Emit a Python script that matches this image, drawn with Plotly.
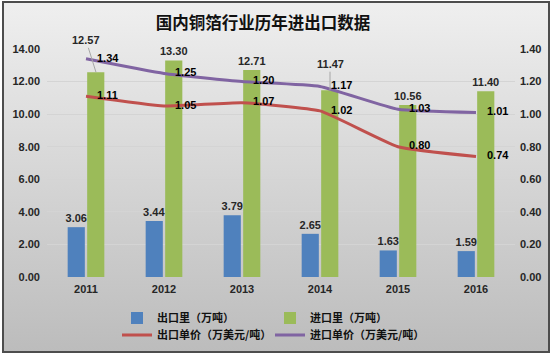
import base64
import plotly.graph_objects as go

years = ["2011", "2012", "2013", "2014", "2015", "2016"]
export_qty = [3.06, 3.44, 3.79, 2.65, 1.63, 1.59]
import_qty = [12.57, 13.30, 12.71, 11.47, 10.56, 11.40]
export_price = [1.11, 1.05, 1.07, 1.02, 0.80, 0.74]
import_price = [1.34, 1.25, 1.20, 1.17, 1.03, 1.01]

names = ["出口里（万吨）", "进口里（万吨）", "出口单价（万美元/吨）", "进口单价（万美元/吨）"]
left_ticks = [0, 2, 4, 6, 8, 10, 12, 14]
right_ticks = [0, 0.2, 0.4, 0.6, 0.8, 1.0, 1.2, 1.4]
offset_labels = {"2011": (-10, -32), "2014": (0, -26)}  # import labels drawn with leader lines

W, H = 554, 357
L, R, T, B = 47, 39, 49, 80
pw, ph = W - L - R, H - T - B

def px_x(p):
    return (p - L) / pw

def px_y(p):
    return (H - B - p) / ph

NUM_FONT = dict(family="Liberation Sans, Arial", size=11, color="#262626", weight="bold")
CJK_FONT = dict(family="Noto Sans CJK SC", size=11, color="#111111", weight="bold")

fig = go.Figure()

fig.add_trace(go.Bar(
    x=years, y=export_qty, name=names[0], marker_color="#4f81bd",
    marker_line_width=0,
    text=[f"{v:.2f}" for v in export_qty], textposition="outside", constraintext="none",
    textfont=NUM_FONT, cliponaxis=False, legend="legend",
))
fig.add_trace(go.Bar(
    x=years, y=import_qty, name=names[1], marker_color="#9bbb59",
    marker_line_width=0,
    text=["" if y in offset_labels else f"{v:.2f}" for y, v in zip(years, import_qty)],
    textposition="outside", constraintext="none",
    textfont=NUM_FONT, cliponaxis=False, legend="legend",
))
fig.add_trace(go.Scatter(
    x=years, y=export_price, name=names[2], yaxis="y2",
    mode="lines+markers+text", line=dict(color="#c0504d", width=3, shape="spline", smoothing=0.4),
    marker=dict(size=16, color="rgba(0,0,0,0)"),
    text=[f"{v:.2f}" for v in export_price], textposition="middle right",
    textfont=dict(family="Liberation Sans, Arial", size=11, color="#000000", weight="bold"),
    cliponaxis=False, legend="legend2",
))
fig.add_trace(go.Scatter(
    x=years, y=import_price, name=names[3], yaxis="y2",
    mode="lines+markers+text", line=dict(color="#8064a2", width=3, shape="spline", smoothing=0.4),
    marker=dict(size=16, color="rgba(0,0,0,0)"),
    text=[f"{v:.2f}" for v in import_price], textposition="middle right",
    textfont=dict(family="Liberation Sans, Arial", size=11, color="#000000", weight="bold"),
    cliponaxis=False, legend="legend2",
))

annotations = []
for i, (y, v) in enumerate(zip(years, import_qty)):
    if y in offset_labels:
        ax, ay = offset_labels[y]
        annotations.append(dict(
            x=i, y=v, xref="x", yref="y", xshift=10, text=f"{v:.2f}",
            showarrow=True, arrowhead=0, arrowwidth=1, arrowcolor="#a6a6a6",
            ax=ax, ay=ay, standoff=0, font=NUM_FONT,
        ))

# background gradient panel with border
svg = (
    '<svg xmlns="http://www.w3.org/2000/svg" width="546" height="350" preserveAspectRatio="none">'
    '<defs><linearGradient id="g" x1="0" y1="0" x2="0" y2="1">'
    '<stop offset="0" stop-color="#efefef"/><stop offset="1" stop-color="#bcbcbc"/>'
    '</linearGradient></defs>'
    '<rect x="0" y="0" width="546" height="350" fill="url(#g)"/>'
    '</svg>'
)
src = "data:image/svg+xml;base64," + base64.b64encode(svg.encode()).decode()
bx0, by0, bx1, by1 = 3, 2, 549, 352
images = [dict(
    source=src, xref="paper", yref="paper",
    x=px_x(bx0), y=px_y(by0), sizex=px_x(bx1) - px_x(bx0), sizey=px_y(by0) - px_y(by1),
    xanchor="left", yanchor="top", sizing="stretch", layer="below",
)]
shapes = [dict(
    type="rect", xref="paper", yref="paper",
    x0=px_x(bx0), x1=px_x(bx1), y0=px_y(by1), y1=px_y(by0),
    line=dict(color="#4d4d4d", width=2), fillcolor="rgba(0,0,0,0)", layer="above",
)]

legend_common = dict(
    orientation="h", xanchor="left", yanchor="middle", bgcolor="rgba(0,0,0,0)",
    font=CJK_FONT, entrywidth=108, entrywidthmode="pixels", itemwidth=30,
    tracegroupgap=0,
)

fig.update_layout(
    width=W, height=H,
    margin=dict(l=L, r=R, t=T, b=B, autoexpand=False),
    paper_bgcolor="white", plot_bgcolor="rgba(0,0,0,0)",
    title=dict(text="国内铜箔行业历年进出口数据", x=263 / W, xref="container", xanchor="center",
               y=1 - 23 / H, yref="container", yanchor="middle",
               font=dict(family="Noto Sans CJK SC", size=16.5, color="#111111", weight="bold")),
    barmode="group", bargap=0.5, bargroupgap=0.12,
    xaxis=dict(type="category", range=[-0.5, len(years) - 0.5], autorange=False,
               showgrid=False, showline=False, ticks="", automargin=False,
               tickfont=NUM_FONT, ticklabelstandoff=4),
    yaxis=dict(range=[0, 14], tickvals=left_ticks, tickformat=".2f", showgrid=True,
               gridcolor="#d4d4d4", gridwidth=1, zeroline=False, showline=False,
               automargin=False, ticks="", tickfont=NUM_FONT, ticklabelstandoff=6),
    yaxis2=dict(range=[0, 1.4], tickvals=right_ticks, tickformat=".2f", overlaying="y",
                side="right", showgrid=False, zeroline=False, showline=False,
                automargin=False, ticks="", tickfont=NUM_FONT, ticklabelstandoff=4),
    legend=dict(x=px_x(117), y=px_y(318), **legend_common),
    legend2=dict(x=px_x(117), y=px_y(335), **legend_common),
    annotations=annotations, images=images, shapes=shapes,
)

fig.write_html(
    "out.html",
    config={"displayModeBar": False},
    post_script="document.body.style.margin='0';document.body.style.padding='0';",
)
